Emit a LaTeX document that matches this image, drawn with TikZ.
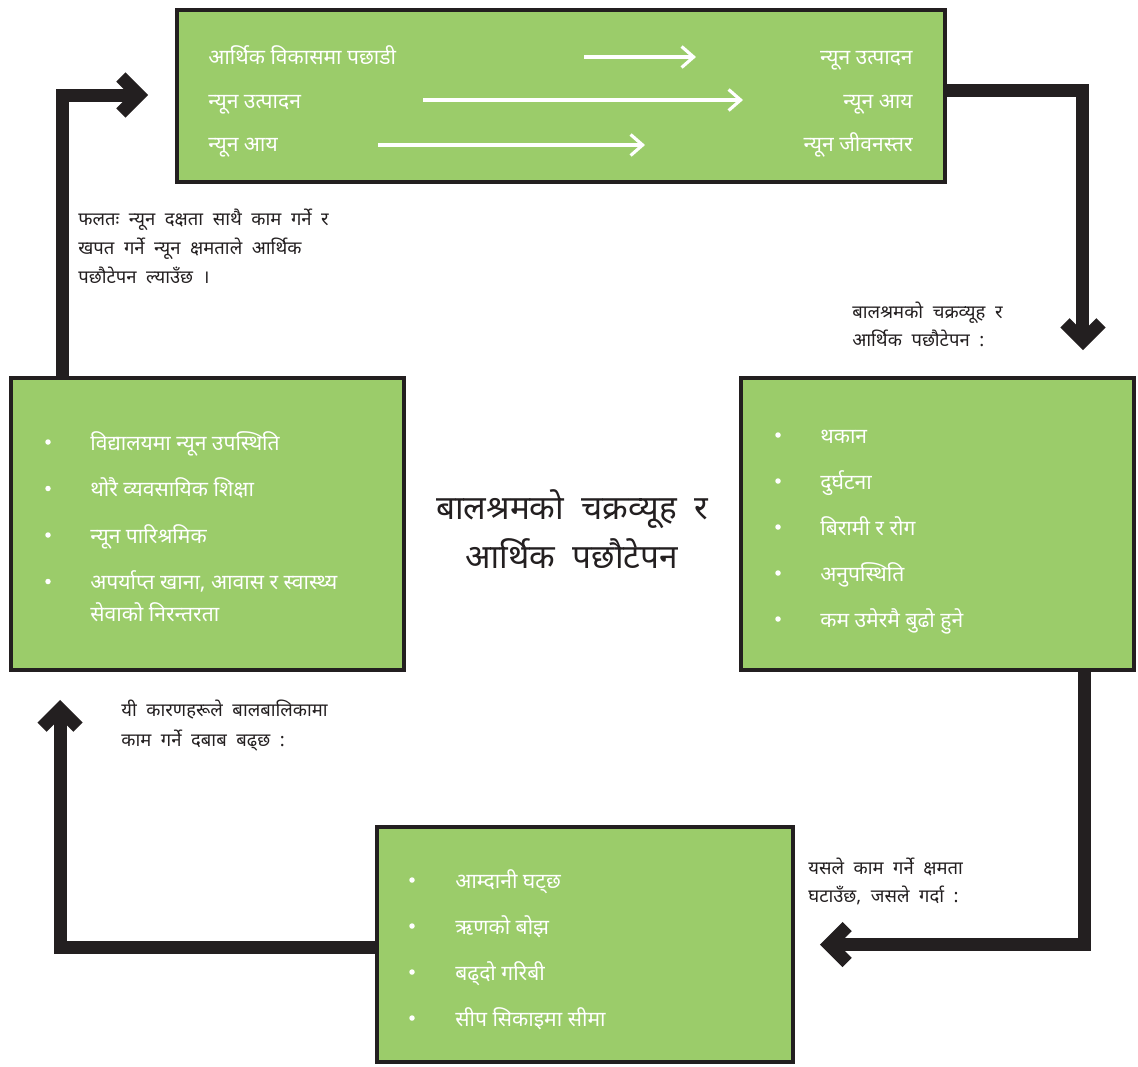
\documentclass[tikz,border=0pt]{standalone}
\usepackage{fontspec}
\newfontfamily\deva[Script=Devanagari]{Noto Sans}
\usetikzlibrary{arrows.meta,calc}
\definecolor{ink}{HTML}{231F20}
\definecolor{leaf}{HTML}{9BCC6A}
\newcommand\roomy{\spaceskip=0.52em\relax}

\begin{document}
\begin{tikzpicture}[x=0.02cm,y=-0.02cm,line join=miter,font=\deva,
    panel/.style={draw=ink,line width=2pt,fill=leaf,inner sep=0pt},
    item/.style={anchor=mid west,inner sep=0pt,yshift=-0.09cm,text=white,font=\deva\fontsize{12}{14}\selectfont},
    dot/.style={circle,fill=white,inner sep=0pt,minimum size=0.11cm},
    note/.style={anchor=mid west,inner sep=0pt,yshift=-0.07cm,text=ink,font=\deva\fontsize{10.5}{12}\selectfont\roomy},
    headline/.style={anchor=mid,inner sep=0pt,yshift=-0.16cm,text=ink,font=\deva\fontsize{19}{22}\selectfont\roomy},
    loopline/.style={draw=ink,line width=7.4pt,-{Straight Barb[length=0.36cm,width=0.72cm]}},
    flow/.style={draw=white,line width=1.8pt,-{Straight Barb[length=0.24cm,width=0.42cm]}}]
  \useasboundingbox (0,0) rectangle (1138,1066);

  % the four boxes
  \node[panel,minimum width=15.37cm,minimum height=3.45cm] (top) at (561,96) {};
  \node[panel,minimum width=7.87cm,minimum height=5.85cm] (left) at (207.5,524) {};
  \node[panel,minimum width=7.87cm,minimum height=5.85cm] (right) at (937.5,524) {};
  \node[panel,minimum width=8.33cm,minimum height=4.71cm] (bottom) at (585,944.5) {};

  % the cycle
  \draw[loopline] ($(top.east)+(0,-6)$) -| ($(right.north east)+(-53,-26)$);
  \draw[loopline] ($(right.south east)+(-51,0)$) |- ($(bottom.east)+(25,0)$);
  \draw[loopline] ($(bottom.west)+(0,3)$) -| ($(left.south west)+(51,28)$);
  \draw[loopline] ($(left.north west)+(53,0)$) |- ($(top.west)+(-27,-1)$);

  % top box
  \foreach \l/\r/\y [count=\i] in {आर्थिक विकासमा पछाडी/न्यून उत्पादन/56, न्यून उत्पादन/न्यून आय/100, न्यून आय/न्यून जीवनस्तर/143}
  {
    \node[item] (tl\i) at (208,\y) {\l};
    \node[item,anchor=mid east] (tr\i) at (913,\y) {\r};
  }
  \foreach \a/\b/\y [count=\i] in {584/696/57, 423/743/100, 378/645/145}
  {
    \coordinate (fs\i) at (\a,\y);
    \coordinate (fe\i) at (\b,\y);
    \draw[flow] (fs\i) -- (fe\i);
  }

  % left box
  \foreach \t [count=\i] in {विद्यालयमा न्यून उपस्थिति, थोरै व्यवसायिक शिक्षा, न्यून पारिश्रमिक, {अपर्याप्त खाना, आवास र स्वास्थ्य}}
  {
    \node[dot] (lb\i) at (48,{442+46.5*(\i-1)}) {};
    \node[item] (li\i) at (90,{442+46.5*(\i-1)}) {\t};
  }
  \node[item] (li5) at (90,613) {सेवाको निरन्तरता};

  % right box
  \foreach \t [count=\i] in {थकान, दुर्घटना, बिरामी र रोग, अनुपस्थिति, कम उमेरमै बुढो हुने}
  {
    \node[dot] (rb\i) at (778,{435+46*(\i-1)}) {};
    \node[item] (ri\i) at (820,{435+46*(\i-1)}) {\t};
  }

  % bottom box
  \foreach \t [count=\i] in {आम्दानी घट्छ, ऋणको बोझ, बढ्दो गरिबी, सीप सिकाइमा सीमा}
  {
    \node[dot] (bb\i) at (412,{880+46*(\i-1)}) {};
    \node[item] (bi\i) at (455,{880+46*(\i-1)}) {\t};
  }

  % title
  \node[headline] (head1) at (572,508) {बालश्रमको चक्रव्यूह र};
  \node[headline] (head2) at (572,557) {आर्थिक पछौटेपन};

  % notes along the arrows
  \foreach \t [count=\i] in {फलतः न्यून दक्षता साथै काम गर्ने र, खपत गर्ने न्यून क्षमताले आर्थिक, पछौटेपन ल्याउँछ ।}
    \node[note] (na\i) at (78,{218+29*(\i-1)}) {\t};
  \foreach \t [count=\i] in {बालश्रमको चक्रव्यूह र, आर्थिक पछौटेपन :}
    \node[note] (nb\i) at (852,{311+28*(\i-1)}) {\t};
  \foreach \t [count=\i] in {यी कारणहरूले बालबालिकामा, काम गर्ने दबाब बढ्छ :}
    \node[note] (nc\i) at (121,{709+30*(\i-1)}) {\t};
  \foreach \t [count=\i] in {यसले काम गर्ने क्षमता, {घटाउँछ, जसले गर्दा :}}
    \node[note] (nd\i) at (808,{867+28*(\i-1)}) {\t};
\end{tikzpicture}
\end{document}
